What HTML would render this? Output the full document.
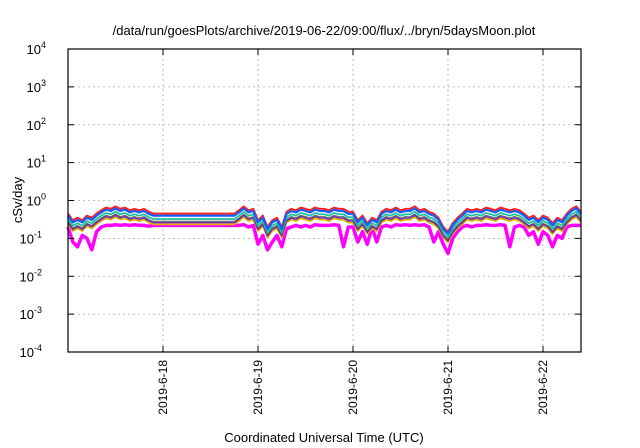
<!DOCTYPE html>
<html><head><meta charset="utf-8"><style>
html,body{margin:0;padding:0;background:#fff}
svg{display:block;font-family:"Liberation Sans",sans-serif}
</style></head><body>
<svg id="chart" width="640" height="448" viewBox="0 0 640 448" xmlns="http://www.w3.org/2000/svg">
<rect width="640" height="448" fill="#fff"/>
<text x="324" y="35" font-size="13" text-anchor="middle">/data/run/goesPlots/archive/2019-06-22/09:00/flux/../bryn/5daysMoon.plot</text>
<text x="324" y="442" font-size="13" text-anchor="middle">Coordinated Universal Time (UTC)</text>
<text x="22" y="200" font-size="13" text-anchor="middle" transform="rotate(-90 22 200)">cSv/day</text>
<g id="grid"></g>
<g id="series"></g>
<g id="axes"></g>
</svg>
<script>
const dayLabels = ["2019-6-18","2019-6-19","2019-6-20","2019-6-21","2019-6-22"];
const dayTicks = [1,2,3,4,5];
const yExps = [-4,-3,-2,-1,0,1,2,3,4];
const redVals = [0.45,0.3,0.35,0.3,0.4,0.35,0.45,0.55,0.65,0.6,0.7,0.6,0.65,0.55,0.6,0.55,0.6,0.5,
0.45,0.45,0.45,0.45,0.45,0.45,0.45,0.45,0.45,0.45,0.45,0.45,0.45,0.45,0.45,0.45,0.45,0.45,
0.55,0.7,0.55,0.6,0.3,0.4,0.2,0.3,0.35,0.2,0.5,0.6,0.55,0.65,0.6,0.55,0.65,0.6,0.6,0.55,0.65,0.6,0.6,0.5,
0.5,0.3,0.4,0.25,0.35,0.3,0.5,0.6,0.55,0.65,0.55,0.6,0.6,0.7,0.55,0.6,0.5,0.45,0.35,0.2,
0.15,0.25,0.35,0.45,0.6,0.55,0.6,0.55,0.65,0.6,0.55,0.65,0.6,0.55,0.6,0.55,0.45,0.35,0.4,0.3,
0.4,0.35,0.25,0.35,0.3,0.45,0.6,0.7,0.5];
const magentaVals = [0.2,0.08,0.06,0.12,0.1,0.05,0.15,0.2,0.22,0.22,0.23,0.22,0.23,0.22,0.23,0.22,0.22,0.21,
0.22,0.22,0.22,0.22,0.22,0.22,0.22,0.22,0.22,0.22,0.22,0.22,0.22,0.22,0.22,0.22,0.22,0.22,
0.22,0.23,0.2,0.22,0.07,0.12,0.05,0.08,0.12,0.06,0.18,0.2,0.22,0.2,0.22,0.2,0.23,0.22,0.22,0.22,0.23,0.22,0.06,0.2,
0.2,0.08,0.15,0.07,0.2,0.08,0.2,0.22,0.2,0.23,0.22,0.23,0.22,0.23,0.22,0.23,0.2,0.08,0.15,0.07,
0.04,0.1,0.15,0.2,0.22,0.2,0.22,0.22,0.23,0.22,0.22,0.23,0.22,0.06,0.2,0.22,0.2,0.12,0.15,0.07,
0.15,0.12,0.06,0.12,0.1,0.2,0.22,0.22,0.22];
const timeStep = 0.05;
const middleColors = ["#1060ff","#20c0a0","#555555","#7030a0","#e0b000"];
const middleRatios = [0.88,0.72,0.63,0.58,0.52];
const middleWidths = [2.2,1.8,0.8,1.6,1.6];

const X0=68,X1=581,Y0=49,Y1=352,T0=0,T1=5.4,E0=-4,E1=4;
const sx=t=>X0+(t-T0)/(T1-T0)*(X1-X0);
const sy=v=>Y1-(Math.log10(v)-E0)/(E1-E0)*(Y1-Y0);
const NS="http://www.w3.org/2000/svg";
function mk(tag,attrs,parent){const e=document.createElementNS(NS,tag);for(const k in attrs)e.setAttribute(k,attrs[k]);parent.appendChild(e);return e;}
const grid=document.getElementById('grid'),ser=document.getElementById('series'),ax=document.getElementById('axes');

yExps.forEach(p=>{
  const y=sy(Math.pow(10,p));
  if(p>E0&&p<E1){const g=mk('line',{x1:X0,x2:X1,y1:y,y2:y,stroke:'#aaa','stroke-width':0.8,'stroke-dasharray':'2,3'},grid);
  
  }
  mk('line',{x1:X0,x2:X0+6,y1:y,y2:y,stroke:'#000'},ax);
  mk('line',{x1:X1,x2:X1-6,y1:y,y2:y,stroke:'#000'},ax);
  const t=mk('text',{x:58,y:y+5,'font-size':13,'text-anchor':'end'},ax);
  
  
  t.textContent='10';
  const s=mk('tspan',{dy:-6,'font-size':9},t);s.textContent=String(p);
  t.setAttribute('x',String(50-String(p).length*4));
});
dayTicks.forEach((d,i)=>{
  const x=sx(d);
  const g=mk('line',{x1:x,x2:x,y1:Y0,y2:Y1,stroke:'#aaa','stroke-width':0.8,'stroke-dasharray':'2,3'},grid);
  
  
  mk('line',{x1:x,x2:x,y1:Y1,y2:Y1-6,stroke:'#000'},ax);
  mk('line',{x1:x,x2:x,y1:Y0,y2:Y0+6,stroke:'#000'},ax);
  const t=mk('text',{x:0,y:0,'font-size':12,'text-anchor':'end',transform:`translate(${x+4},360) rotate(-90)`},ax);
  
  
  t.textContent=dayLabels[i];
});
const frame=mk('rect',{x:X0,y:Y0,width:X1-X0,height:Y1-Y0,fill:'none',stroke:'#000','stroke-width':1.2},ax);



function line(vals,color,w,name){
  const d=vals.map((v,i)=>(i?'L':'M')+sx(i*timeStep).toFixed(1)+','+sy(v).toFixed(1)).join('');
  const p=mk('path',{d:d,fill:'none',stroke:color,'stroke-width':w,'stroke-linejoin':'round'},ser);
  
  
}
line(magentaVals,'#ff00ff',3.5,'series-magenta');
for(let i=middleColors.length-1;i>=1;i--){
  line(redVals.map(v=>v*middleRatios[i]),middleColors[i],middleWidths[i],'series-middle-'+i);
}
line(redVals,'#ff2020',2,'series-red');
line(redVals.map(v=>v*middleRatios[0]),middleColors[0],middleWidths[0],'series-blue');
</script>
</body></html>
